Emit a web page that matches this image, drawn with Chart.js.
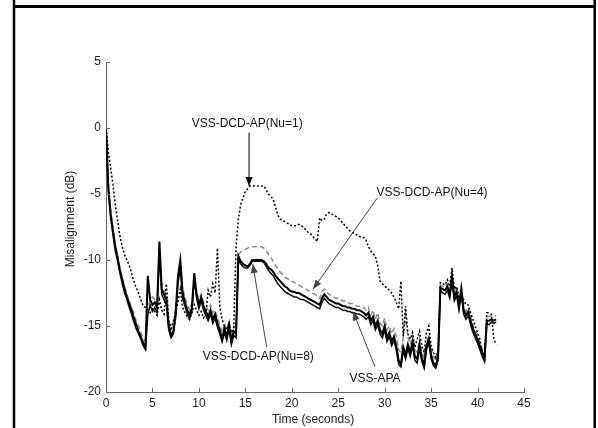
<!DOCTYPE html>
<html><head><meta charset="utf-8">
<script src="https://cdn.jsdelivr.net/npm/chart.js@4/dist/chart.umd.min.js"></script>
<style>html,body{margin:0;padding:0;background:#fff}#wrap{width:598px;height:428px}</style>
</head><body><div id="wrap"><canvas id="c" width="598" height="428"></canvas></div>
<script>
// Time axis (seconds)
const time = [
0,0.25,0.5,0.75,1,1.25,1.5,1.75,
2,2.25,2.5,2.75,3,3.25,3.5,3.75,
4,4.25,4.5,4.75,5,5.25,5.5,5.75,
6,6.25,6.5,6.75,7,7.25,7.5,7.75,
8,8.25,8.5,8.75,9,9.25,9.5,9.75,
10,10.25,10.5,10.75,11,11.25,11.5,11.75,
12,12.25,12.5,12.75,13,13.25,13.5,13.75,
14,14.25,14.5,14.75,15,15.25,15.5,15.75,
16,16.25,16.5,16.75,17,17.25,17.5,17.75,
18,18.25,18.5,18.75,19,19.25,19.5,19.75,
20,20.25,20.5,20.75,21,21.25,21.5,21.75,
22,22.25,22.5,22.75,23,23.25,23.5,23.75,
24,24.25,24.5,24.75,25,25.25,25.5,25.75,
26,26.25,26.5,26.75,27,27.25,27.5,27.75,
28,28.25,28.5,28.75,29,29.25,29.5,29.75,
30,30.25,30.5,30.75,31,31.25,31.5,31.75,
32,32.25,32.5,32.75,33,33.25,33.5,33.75,
34,34.25,34.5,34.75,35,35.25,35.5,35.75,
36,36.25,36.5,36.75,37,37.25,37.5,37.75,
38,38.25,38.5,38.75,39,39.25,39.5,39.75,
40,40.25,40.5,40.75,41,41.25,41.5,41.75,
42];

// VSS-DCD-AP(Nu=8), solid black
const nu8 = [
0,-4.5,-6.5,-7.8,-9.0,-9.8,-10.8,-11.5,
-12.2,-12.8,-13.3,-13.8,-14.4,-14.9,-15.4,-15.8,
-16.3,-16.6,-11.2,-13.0,-13.4,-13.2,-13.6,-8.6,
-12.2,-12.6,-13.0,-15.0,-15.7,-15.4,-14.0,-11.2,
-10.0,-12.5,-13.2,-13.8,-14.2,-13.6,-11.0,-12.6,
-13.4,-12.8,-13.5,-13.9,-14.3,-13.8,-14.5,-14.1,
-14.8,-15.3,-16.0,-15.2,-15.8,-14.9,-16.2,-15.4,
-15.6,-9.7,-10.1,-10.3,-10.4,-10.5,-10.3,-10.0,
-10.0,-10.0,-10.0,-10.0,-10.1,-10.3,-10.6,-10.7,
-10.9,-11.2,-11.4,-11.6,-11.8,-12.0,-12.1,-12.3,
-12.4,-12.4,-12.5,-12.5,-12.6,-12.7,-12.8,-12.9,
-13.0,-13.1,-13.2,-13.3,-13.4,-12.9,-12.6,-12.8,
-13.0,-13.1,-13.2,-13.3,-13.3,-13.4,-13.5,-13.5,
-13.6,-13.6,-13.7,-13.7,-13.8,-13.8,-13.9,-14.0,
-14.2,-14.0,-14.6,-14.3,-15.0,-14.6,-15.3,-15.6,
-15.0,-15.9,-15.5,-16.2,-15.8,-16.5,-17.6,-17.9,
-16.6,-17.2,-16.4,-17.0,-16.2,-17.3,-17.5,-16.4,
-17.4,-18.0,-16.5,-16.0,-17.2,-17.8,-18.0,-17.3,
-12.1,-12.2,-12.3,-12.0,-12.6,-11.3,-12.8,-12.4,
-13.5,-12.2,-13.8,-14.2,-13.9,-14.6,-15.2,-15.6,
-16.0,-16.5,-17.0,-17.4,-14.6,-14.6,-14.5,-14.6,
-14.5];

// VSS-APA, solid black
const apa = [
0,-4.8,-6.8,-8.1,-9.3,-10.1,-11.0,-11.8,
-12.5,-13.0,-13.6,-14.1,-14.7,-15.2,-15.6,-16.0,
-16.5,-16.8,-14.2,-13.4,-13.9,-13.6,-14.0,-9.5,
-12.6,-13.0,-13.4,-15.3,-15.9,-15.6,-14.4,-11.8,
-10.6,-12.9,-13.5,-14.1,-14.5,-13.9,-11.4,-12.9,
-13.7,-13.1,-13.8,-14.2,-14.6,-14.1,-14.8,-14.4,
-15.1,-15.6,-16.2,-15.5,-16.1,-15.2,-16.4,-15.7,
-15.9,-10.0,-10.3,-10.5,-10.6,-10.6,-10.4,-10.1,
-10.1,-10.1,-10.1,-10.1,-10.2,-10.5,-10.8,-11.0,
-11.2,-11.5,-11.8,-12.0,-12.2,-12.4,-12.5,-12.6,
-12.7,-12.8,-12.8,-12.9,-13.0,-13.0,-13.1,-13.2,
-13.3,-13.4,-13.5,-13.6,-13.7,-13.2,-12.9,-13.1,
-13.3,-13.4,-13.5,-13.6,-13.6,-13.7,-13.8,-13.8,
-13.9,-13.9,-14.0,-14.0,-14.1,-14.1,-14.2,-14.3,
-14.5,-14.3,-14.9,-14.6,-15.3,-14.9,-15.6,-15.9,
-15.3,-16.2,-15.8,-16.5,-16.1,-16.8,-17.9,-18.1,
-16.9,-17.5,-16.7,-17.3,-16.5,-17.6,-17.8,-16.7,
-17.7,-18.2,-16.8,-16.3,-17.5,-18.0,-18.2,-17.6,
-12.3,-12.5,-12.6,-12.3,-12.9,-11.6,-13.1,-12.7,
-13.8,-12.5,-14.1,-14.5,-14.2,-14.9,-15.5,-15.9,
-16.3,-16.8,-17.3,-17.7,-14.8,-14.9,-14.7,-14.8,
-14.7];

// VSS-DCD-AP(Nu=4), grey dashed
const nu4 = [
0,-4.0,-6.2,-7.6,-8.8,-9.7,-10.6,-11.3,
-12.0,-12.6,-13.1,-13.6,-14.1,-14.6,-15.0,-15.5,
-15.9,-16.2,-13.8,-13.0,-12.8,-13.0,-13.2,-8.8,
-11.8,-12.3,-12.6,-14.6,-15.2,-15.0,-13.6,-11.5,
-10.5,-12.2,-12.8,-13.4,-13.8,-13.2,-11.6,-12.4,
-13.0,-12.6,-13.2,-13.5,-13.8,-13.4,-14.0,-13.8,
-14.4,-14.9,-15.5,-14.8,-15.3,-14.6,-15.8,-15.0,
-15.2,-9.6,-9.4,-9.3,-9.2,-9.1,-9.0,-9.0,
-9.0,-9.0,-9.0,-9.0,-9.1,-9.3,-9.6,-9.8,
-10.1,-10.4,-10.7,-10.9,-11.1,-11.3,-11.4,-11.5,
-11.6,-11.7,-11.8,-11.9,-12.0,-12.1,-12.2,-12.3,
-12.4,-12.5,-12.6,-12.7,-12.9,-12.4,-12.2,-12.4,
-12.6,-12.7,-12.8,-12.9,-12.9,-13.0,-13.1,-13.1,
-13.2,-13.3,-13.3,-13.4,-13.5,-13.5,-13.6,-13.6,
-13.8,-13.6,-14.2,-13.8,-14.5,-14.0,-14.8,-15.0,
-14.4,-15.3,-15.0,-15.6,-15.2,-15.8,-16.8,-17.0,
-15.9,-14.2,-15.8,-16.4,-15.7,-16.8,-17.0,-16.0,
-16.9,-17.5,-16.2,-15.8,-16.8,-17.3,-17.6,-17.0,
-11.9,-12.0,-12.1,-11.8,-12.3,-11.0,-12.5,-12.2,
-13.2,-12.0,-13.5,-13.9,-13.6,-14.3,-14.9,-15.3,
-15.7,-16.2,-16.7,-17.1,-14.2,-14.3,-14.2,-14.3,
-14.2];

// VSS-DCD-AP(Nu=1), black dotted
const nu1 = [
0,-1.8,-3.0,-4.3,-5.8,-7.0,-8.2,-9.0,
-9.6,-10.0,-10.4,-11.0,-11.6,-12.1,-12.5,-13.0,
-13.5,-13.6,-13.8,-14.0,-13.7,-13.9,-14.2,-13.0,
-13.8,-14.1,-11.8,-14.5,-15.2,-14.6,-14.0,-13.2,
-12.2,-13.6,-14.0,-14.3,-14.5,-14.0,-13.4,-13.8,
-14.2,-13.9,-14.4,-14.1,-12.3,-12.8,-11.8,-12.5,
-9.1,-13.5,-14.5,-15.0,-15.3,-14.8,-15.5,-15.2,
-9.0,-6.9,-5.8,-5.3,-4.8,-4.6,-4.4,-4.4,
-4.4,-4.4,-4.4,-4.4,-4.4,-4.7,-5.0,-5.2,
-5.4,-6.0,-6.6,-6.9,-7.0,-7.1,-7.2,-7.3,
-7.4,-7.4,-7.4,-7.3,-7.4,-7.5,-7.7,-7.9,
-8.0,-8.2,-8.4,-8.6,-6.8,-7.0,-6.9,-6.5,
-6.4,-6.5,-6.6,-6.7,-6.8,-7.0,-7.2,-7.4,
-7.6,-7.8,-7.9,-8.0,-8.1,-8.2,-8.3,-8.3,
-8.5,-9.0,-9.3,-9.5,-9.7,-10.4,-11.6,-11.8,
-12.0,-12.1,-12.3,-12.5,-12.8,-13.2,-13.7,-11.6,
-15.8,-13.5,-15.6,-16.0,-15.5,-16.6,-16.0,-15.4,
-16.5,-17.0,-15.5,-15.0,-16.5,-17.0,-17.4,-16.8,
-11.7,-11.8,-11.9,-11.5,-12.0,-10.6,-12.2,-12.0,
-12.8,-12.5,-13.0,-13.4,-13.4,-14.0,-14.5,-15.0,
-15.5,-16.0,-17.0,-17.5,-14.0,-14.0,-14.1,-16.0,
-16.4];

const xTicks = [0,5,10,15,20,25,30,35,40,45];
const yTicks = [5,0,-5,-10,-15,-20];
const xTitle = 'Time (seconds)';
const yTitle = 'Misalignment (dB)';

// Annotations (label centre and arrow in data coordinates)
const notes = [
  {text:'VSS-DCD-AP(Nu=1)', lx:15.2, ly:0.35, fx:15.4, fy:-0.35, tx:15.4, ty:-4.4, color:'#000'},
  {text:'VSS-DCD-AP(Nu=4)', lx:35.1, ly:-4.9, fx:29.2, fy:-5.3, tx:22.3, ty:-12.2, color:'#444'},
  {text:'VSS-DCD-AP(Nu=8)', lx:16.4, ly:-17.3, fx:17.3, fy:-16.6, tx:15.8, ty:-10.3, color:'#444'},
  {text:'VSS-APA', lx:28.96, ly:-18.98, fx:28.96, fy:-18.1, tx:26.6, ty:-13.9, color:'#444'}
];

const FONT = '"Liberation Sans", Arial, Helvetica, sans-serif';
const FS = 12;
const pts = arr => time.map((t,i)=>({x:t, y:arr[i]}));

const decor = {
  id:'decor',
  afterDraw(chart){
    const ctx = chart.ctx, xs = chart.scales.x, ys = chart.scales.y, a = chart.chartArea;
    ctx.save();
    // inward ticks
    ctx.strokeStyle = '#666'; ctx.lineWidth = 1;
    ctx.beginPath();
    xTicks.forEach(v=>{ const p = Math.round(xs.getPixelForValue(v))+0.5; ctx.moveTo(p, a.bottom); ctx.lineTo(p, a.bottom-4); });
    yTicks.forEach(v=>{ const p = Math.round(ys.getPixelForValue(v))+0.5; ctx.moveTo(a.left, p); ctx.lineTo(a.left+4, p); });
    ctx.stroke();
    // axis titles
    ctx.fillStyle = '#222'; ctx.font = FS+'px '+FONT;
    ctx.textAlign = 'center'; ctx.textBaseline = 'middle';
    ctx.fillText(xTitle, (a.left+a.right)/2 - 2, a.bottom + 28);
    ctx.save(); ctx.translate(71, 219); ctx.rotate(-Math.PI/2); ctx.fillText(yTitle, 0, 0); ctx.restore();
    // annotations
    notes.forEach(n=>{
      const fx = xs.getPixelForValue(n.fx), fy = ys.getPixelForValue(n.fy);
      const tx = xs.getPixelForValue(n.tx), ty = ys.getPixelForValue(n.ty);
      ctx.strokeStyle = n.color; ctx.fillStyle = n.color; ctx.lineWidth = 1;
      ctx.beginPath(); ctx.moveTo(fx, fy); ctx.lineTo(tx, ty); ctx.stroke();
      const ang = Math.atan2(ty-fy, tx-fx), L = 9, W = 3.5;
      const bx = tx - L*Math.cos(ang), by = ty - L*Math.sin(ang);
      ctx.beginPath(); ctx.moveTo(tx, ty);
      ctx.lineTo(bx + W*Math.sin(ang), by - W*Math.cos(ang));
      ctx.lineTo(bx - W*Math.sin(ang), by + W*Math.cos(ang));
      ctx.closePath(); ctx.fill();
      ctx.fillStyle = '#111';
      ctx.fillText(n.text, xs.getPixelForValue(n.lx), ys.getPixelForValue(n.ly));
    });
    // figure frame
    ctx.strokeStyle = '#000'; ctx.lineWidth = 2.5;
    ctx.beginPath();
    ctx.moveTo(14, 0); ctx.lineTo(14, 428);
    ctx.moveTo(594.7, 0); ctx.lineTo(594.7, 428);
    ctx.stroke();
    ctx.lineWidth = 3;
    ctx.beginPath(); ctx.moveTo(14, 6.5); ctx.lineTo(595, 6.5); ctx.stroke();
    ctx.restore();
  }
};

new Chart(document.getElementById('c'), {
  type:'line',
  data:{ datasets:[
    {label:'VSS-DCD-AP(Nu=8)', data:pts(nu8), borderColor:'#000', borderWidth:2},
    {label:'VSS-APA', data:pts(apa), borderColor:'#111', borderWidth:1.5},
    {label:'VSS-DCD-AP(Nu=1)', data:pts(nu1), borderColor:'#000', borderWidth:1.5, borderDash:[2,2]},
    {label:'VSS-DCD-AP(Nu=4)', data:pts(nu4), borderColor:'#8a8a8a', borderWidth:1.5, borderDash:[5,3]}
  ]},
  options:{
    responsive:false, animation:false, devicePixelRatio:1,
    layout:{padding:{left:0, top:62, right:74, bottom:0}},
    elements:{point:{radius:0}, line:{tension:0, fill:false}},
    plugins:{legend:{display:false}, tooltip:{enabled:false}},
    scales:{
      x:{type:'linear', min:0, max:45,
         afterFit:s=>{s.height=36;},
         afterBuildTicks:s=>{s.ticks = xTicks.map(v=>({value:v}));},
         grid:{display:false, drawTicks:false}, border:{display:true, color:'#666', width:1},
         ticks:{color:'#222', font:{family:FONT, size:FS}, padding:4, maxRotation:0, autoSkip:false}},
      y:{type:'linear', min:-20, max:5,
         afterFit:s=>{s.width=106;},
         afterBuildTicks:s=>{s.ticks = yTicks.map(v=>({value:v}));},
         grid:{display:false, drawTicks:false}, border:{display:true, color:'#666', width:1},
         ticks:{color:'#222', font:{family:FONT, size:FS}, padding:5, autoSkip:false}}
    }
  },
  plugins:[decor]
});
</script>
</body></html>
